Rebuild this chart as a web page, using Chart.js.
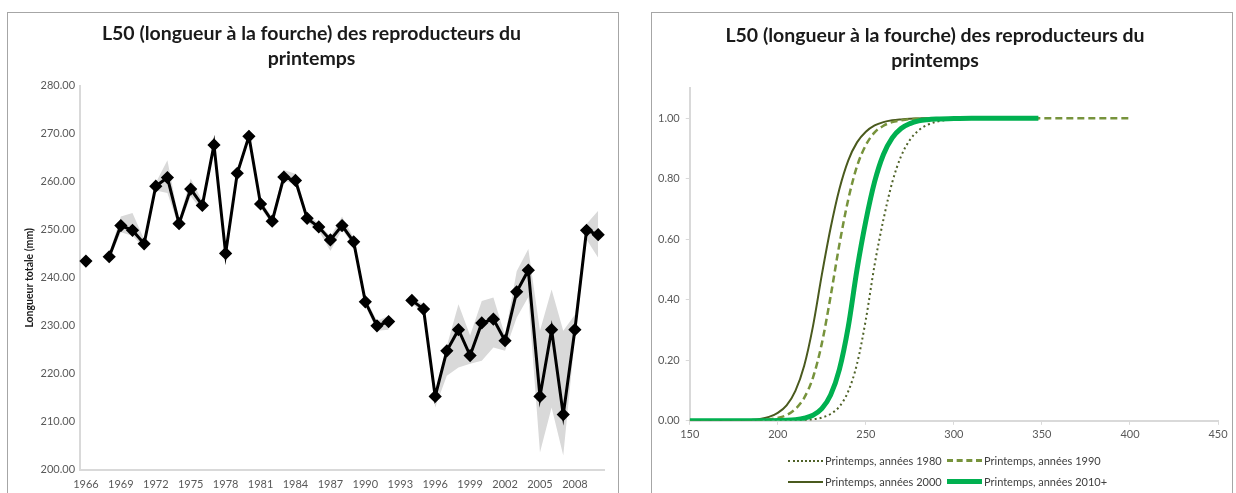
<!DOCTYPE html>
<html>
<head>
<meta charset="utf-8">
<script src="https://cdn.jsdelivr.net/npm/chart.js@4.4.0/dist/chart.umd.min.js"></script>
<style>
  body { margin: 0; background: #fff; width: 1236px; height: 493px; overflow: hidden; position: relative; font-family: Lato, sans-serif; }
  .panel { position: absolute; border: 1px solid #a6a6a6; box-sizing: border-box; }
  #leftPanel { left: 7px; top: 12px; width: 612px; height: 495px; }
  #rightPanel { left: 651px; top: 12px; width: 582px; height: 495px; }
  .wrap { position: absolute; }
  #leftWrap { left: 8px; top: 13px; width: 609px; height: 486px; }
  #rightWrap { left: 652px; top: 13px; width: 580px; height: 480px; }
  #legend { position: absolute; left: 788px; top: 450px; display: grid; grid-template-columns: 159px 170px; font-size: 11px; color: #404040; }
  .item { display: flex; align-items: center; height: 21px; white-space: nowrap; }
  .swatch { width: 35px; margin-right: 2px; height: 0; }
</style>
</head>
<body>
<div class="panel" id="leftPanel"></div>
<div class="panel" id="rightPanel"></div>
<div class="wrap" id="leftWrap"><canvas id="leftChart"></canvas></div>
<div class="wrap" id="rightWrap"><canvas id="rightChart"></canvas></div>
<div id="legend"></div>
<script>
// --- left chart: L50 per year ---
const years = [1966, 1967, 1968, 1969, 1970, 1971, 1972, 1973, 1974, 1975, 1976, 1977, 1978, 1979, 1980,
  1981, 1982, 1983, 1984, 1985, 1986, 1987, 1988, 1989, 1990, 1991, 1992, 1993, 1994, 1995,
  1996, 1997, 1998, 1999, 2000, 2001, 2002, 2003, 2004, 2005, 2006, 2007, 2008, 2009, 2010];
const l50 = [243.5, null, 244.4, 250.9, 249.9, 247.1, 259.1, 260.9, 251.3, 258.5, 255.1, 267.7, 245.1, 261.8, 269.5,
  255.4, 251.8, 261.0, 260.3, 252.4, 250.6, 247.9, 250.9, 247.5, 235.0, 230.0, 230.9, null, 235.3, 233.5,
  215.3, 224.8, 229.2, 223.8, 230.6, 231.4, 226.9, 237.1, 241.6, 215.3, 229.2, 211.5, 229.2, 249.9, 249.0];
const bandLow = [null, null, 243.8, 249.5, 248.8, 246.3, 258.2, 257.7, 250.5, 257.0, 253.9, 266.8, 242.8, 261.0, 268.8,
  254.6, 251.0, 260.3, 259.5, 251.6, 249.8, 245.6, 250.1, 246.7, 234.2, 229.0, 229.2, null, 234.6, 232.6,
  213.0, 219.6, 221.3, 222.1, 222.7, 225.5, 224.8, 231.7, 236.0, 203.6, 213.0, 203.0, 227.5, 248.0, 244.2];
const bandHigh = [null, null, 245.0, 252.8, 253.5, 248.0, 259.8, 264.5, 252.0, 260.7, 256.0, 268.5, 246.0, 262.6, 270.2,
  256.2, 252.6, 262.5, 261.7, 253.2, 251.4, 248.6, 252.8, 248.3, 235.8, 231.0, 232.1, null, 236.0, 234.4,
  216.0, 225.8, 234.5, 228.0, 235.2, 235.9, 228.0, 241.4, 246.0, 229.0, 237.6, 229.0, 232.3, 251.2, 254.0];

// --- right chart: maturity ogives ---
const lengths = [150, 160, 170, 180, 185, 190, 195, 200, 205, 210, 215, 220, 225, 230, 235, 240,
  245, 250, 255, 260, 265, 270, 275, 280, 285, 290, 300, 310, 320, 348, 400];
const ogive1980 = [0, 0, 0, 0, 0, 0, 0, 0.0002, 0.0005, 0.001, 0.0023, 0.005, 0.0105, 0.0225, 0.047, 0.097,
  0.188, 0.334, 0.516, 0.665, 0.788, 0.874, 0.928, 0.96, 0.978, 0.988, 0.997, 0.999, 1, 1, null];
const ogive1990 = [0, 0, 0.0001, 0.0006, 0.0011, 0.0023, 0.0047, 0.0096, 0.019, 0.039, 0.076, 0.143, 0.255, 0.411, 0.583, 0.731,
  0.841, 0.911, 0.953, 0.975, 0.987, 0.993, 0.997, 0.998, 0.999, 1, 1, 1, 1, 1, 1];
const ogive2000 = [0, 0.0001, 0.0004, 0.0015, 0.003, 0.006, 0.013, 0.026, 0.051, 0.099, 0.182, 0.313, 0.482, 0.637, 0.766, 0.86,
  0.92, 0.955, 0.976, 0.987, 0.993, 0.996, 0.998, 0.999, 1, 1, 1, 1, 1, 1, null];
const ogive2010 = [0, 0, 0, 0.0001, 0.0002, 0.0003, 0.0005, 0.0008, 0.0017, 0.0038, 0.0085, 0.0185, 0.04, 0.085, 0.17, 0.31,
  0.5, 0.66, 0.79, 0.88, 0.935, 0.966, 0.982, 0.991, 0.995, 0.997, 0.999, 1, 1, 1, null];
const seriesNames = ['Printemps, années 1980', 'Printemps, années 1990', 'Printemps, années 2000', 'Printemps, années 2010+'];
const yTicks = [0, 0.2, 0.4, 0.6, 0.8, 1.0];
const xTicks = [150, 200, 250, 300, 350, 400, 450];

const titleLines = ['L50 (longueur à la fourche) des reproducteurs du', 'printemps'];
const FONT = 'Lato';

Chart.defaults.font.family = FONT;
Chart.defaults.animation = false;

const titleOpts = {
  display: true,
  text: titleLines,
  color: '#1a1a1a',
  font: { size: 19.5, weight: 'bold', lineHeight: 1.28 },
  padding: { top: 0, bottom: 15 }
};

new Chart(document.getElementById('leftChart'), {
  type: 'line',
  data: {
    labels: years.map(String),
    datasets: [
      { label: 'borne inf', data: bandLow, borderWidth: 0, pointRadius: 0, fill: false, order: 3 },
      { label: 'borne sup', data: bandHigh, borderWidth: 0, pointRadius: 0, fill: '-1',
        backgroundColor: '#d9d9d9', order: 2 },
      { label: 'L50', data: l50, borderColor: '#000', borderWidth: 3, pointStyle: 'rectRot',
        pointRadius: 4.5, pointBackgroundColor: '#000', pointBorderColor: '#000', order: 1 }
    ]
  },
  options: {
    responsive: true,
    maintainAspectRatio: false,
    layout: { padding: { left: 11, right: 13, top: 8, bottom: 0 } },
    plugins: {
      legend: { display: false },
      tooltip: { enabled: false },
      title: titleOpts
    },
    scales: {
      x: {
        offset: true,
        grid: { display: false, drawTicks: false },
        border: { color: '#d9d9d9', width: 2 },
        ticks: {
          autoSkip: false, maxRotation: 0, color: '#595959', font: { size: 11 }, padding: 8,
          callback: (v, i) => (i % 3 === 0 ? years[i] : '')
        }
      },
      y: {
        min: 200, max: 280,
        grid: { display: false, drawTicks: false },
        border: { color: '#d9d9d9', width: 2 },
        ticks: { stepSize: 10, color: '#595959', font: { size: 11 }, padding: 5,
          callback: v => v.toFixed(2) },
        title: { display: true, text: 'Longueur totale (mm)', color: '#1a1a1a',
          font: { size: 10.5, weight: 'bold' }, padding: { top: 4, bottom: 0 } }
      }
    }
  }
});

const styles = [
  { color: '#4f6228', width: 2, dash: [2, 3], css: '2px dotted #4f6228' },
  { color: '#77933c', width: 2.5, dash: [7, 4], css: '3px dashed #77933c' },
  { color: '#4a5a1e', width: 2, dash: [], css: '2px solid #4a5a1e' },
  { color: '#00b050', width: 5, dash: [], css: '5px solid #00b050' }
];
const ogives = [ogive1980, ogive1990, ogive2000, ogive2010];
const drawOrder = [3, 2, 4, 1];

new Chart(document.getElementById('rightChart'), {
  type: 'line',
  data: {
    datasets: ogives.map((vals, k) => ({
      label: seriesNames[k],
      data: lengths.map((x, i) => ({ x: x, y: vals[i] })).filter(p => p.y !== null),
      borderColor: styles[k].color,
      borderWidth: styles[k].width,
      borderDash: styles[k].dash,
      pointRadius: 0,
      fill: false,
      cubicInterpolationMode: 'monotone',
      order: drawOrder[k]
    }))
  },
  options: {
    responsive: true,
    maintainAspectRatio: false,
    layout: { padding: { left: 0, right: 14, top: 10, bottom: 49 } },
    plugins: {
      legend: { display: false },
      tooltip: { enabled: false },
      title: titleOpts
    },
    scales: {
      x: {
        type: 'linear', min: 150, max: 450,
        grid: { display: true, drawOnChartArea: false, tickLength: 4, color: '#d9d9d9' },
        border: { color: '#d9d9d9', width: 2 },
        afterBuildTicks: s => { s.ticks = xTicks.map(v => ({ value: v })); },
        ticks: { color: '#595959', font: { size: 11 }, padding: 3, maxRotation: 0 }
      },
      y: {
        min: 0, max: 1.1,
        grid: { display: true, drawOnChartArea: false, tickLength: 4, color: '#d9d9d9' },
        border: { color: '#d9d9d9', width: 2 },
        afterBuildTicks: s => { s.ticks = yTicks.map(v => ({ value: v })); },
        ticks: { color: '#595959', font: { size: 11 }, padding: 6, callback: v => v.toFixed(2) }
      }
    }
  }
});

// legend laid out 2 x 2 like the original
const legend = document.getElementById('legend');
seriesNames.forEach((name, k) => {
  const item = document.createElement('div');
  item.className = 'item';
  const sw = document.createElement('span');
  sw.className = 'swatch';
  sw.style.borderTop = styles[k].css;
  const txt = document.createElement('span');
  txt.textContent = name;
  item.appendChild(sw);
  item.appendChild(txt);
  legend.appendChild(item);
});
</script>
</body>
</html>
